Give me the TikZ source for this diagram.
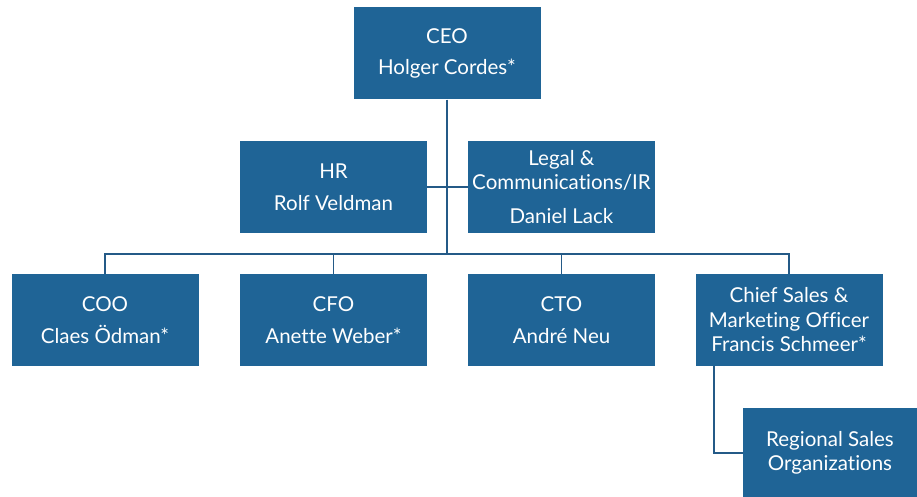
\documentclass[tikz,border=0pt]{standalone}
\usepackage{fontspec}
\setmainfont{Lato}[Ligatures={NoCommon}]
\definecolor{boxblue}{RGB}{31,100,150}
\definecolor{lineblue}{RGB}{36,90,135}
\begin{document}
\begin{tikzpicture}[x=1pt,y=-1pt,
  orgbox/.style={rectangle, fill=boxblue, text=white, align=center, inner sep=0pt,
    font=\fontsize{20.5}{24.5}\selectfont, minimum width=187pt, minimum height=92pt},
  conn/.style={draw=lineblue, line width=1.6pt}]
\useasboundingbox (0,0) rectangle (917,497);
\node[orgbox] (ceo) at (447,53.5) {CEO\\[7pt]Holger Cordes*};
\node[orgbox] (hr) at (333.5,187) {HR\\[7pt]Rolf Veldman};
\node[orgbox] (legal) at (561.5,187) {Legal \&\\Communications/IR\\[9pt]Daniel Lack};
\node[orgbox] (coo) at (105,320) {COO\\[7pt]Claes Ödman*};
\node[orgbox] (cfo) at (333.5,320) {CFO\\[7pt]Anette Weber*};
\node[orgbox] (cto) at (561.5,320) {CTO\\[7pt]André Neu};
\node[orgbox] (csmo) at (789,320) {Chief Sales \&\\Marketing Officer\\Francis Schmeer*};
\node[orgbox, minimum width=174pt, minimum height=90pt] (reg) at (830,453) {Regional Sales\\Organizations};
\coordinate (bar) at (447,254);
\coordinate (mid) at (447,187);
\coordinate (corner) at (714,453);
\draw[conn] (ceo.south) -- (bar);
\draw[conn] (hr.east) -- (legal.west);
\draw[conn] (coo.north) |- (bar) -| (csmo.north);
\draw[conn] (cfo.north) -- (cfo.north |- bar);
\draw[conn] (cto.north) -- (cto.north |- bar);
\draw[conn] (csmo.south -| corner) -- (corner) -- (reg.west |- corner);
\end{tikzpicture}
\end{document}
